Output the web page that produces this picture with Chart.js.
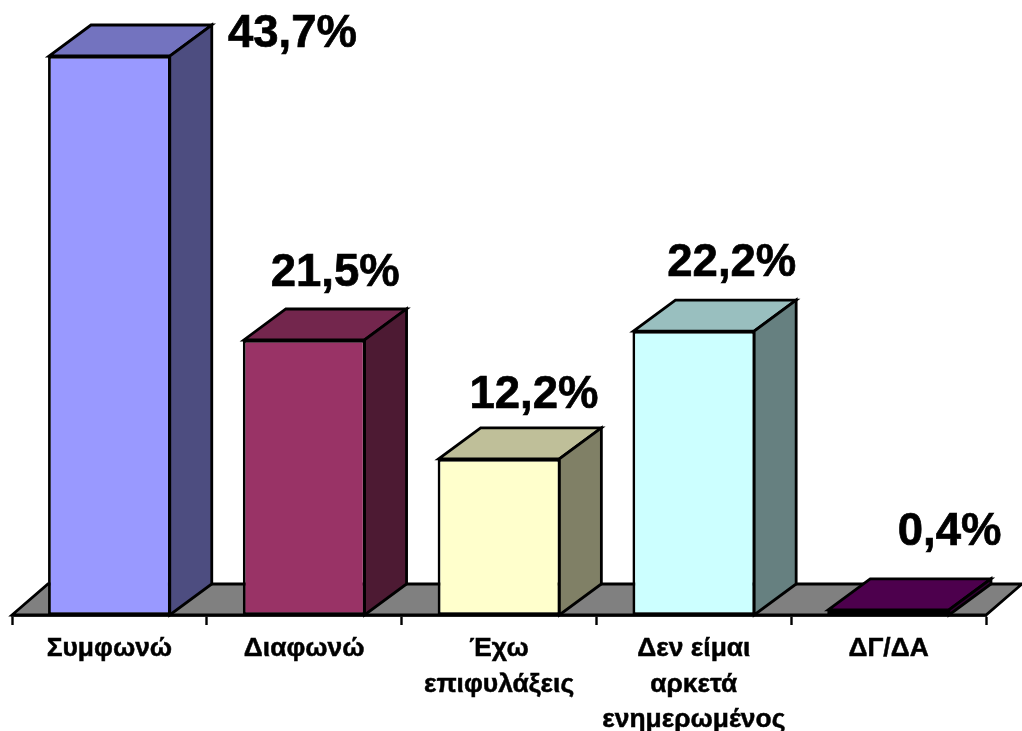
<!DOCTYPE html>
<html>
<head>
<meta charset="utf-8">
<style>html,body{margin:0;padding:0;background:#fff}#w{width:1022px;height:731px;position:relative}</style>
<script src="https://cdn.jsdelivr.net/npm/chart.js@4"></script>
</head>
<body>
<div id="w"><canvas id="c" width="1022" height="731"></canvas></div>
<script>
const categories = [["Συμφωνώ"],["Διαφωνώ"],["Έχω","επιφυλάξεις"],["Δεν είμαι","αρκετά","ενημερωμένος"],["ΔΓ/ΔΑ"]];
const values = [43.7,21.5,12.2,22.2,0.4];
const valueLabels = ["43,7%","21,5%","12,2%","22,2%","0,4%"];
const frontColors = ["#9999FF","#993366","#FFFFCC","#CCFFFF","#660066"];
const topColors = ["#7373BF","#73264D","#BFBF99","#99BFBF","#4D004D"];
const sideColors = ["#4D4D80","#4D1A33","#808066","#668080","#330033"];
const labelShiftX = [183,31,35,38,61];
const labelShiftY = [-22,-67,-63,-68,-77];
const DX = 42, DY = -31, INK = "#000", LINE = 2.8;

function poly(ctx, pts, fill){
  ctx.beginPath();
  pts.forEach((p,i)=> i?ctx.lineTo(p[0],p[1]):ctx.moveTo(p[0],p[1]));
  ctx.closePath();
  ctx.fillStyle = fill; ctx.fill();
  ctx.lineWidth = LINE; ctx.strokeStyle = INK; ctx.lineJoin = "miter"; ctx.stroke();
}
const depth = {
  id:"depth",
  beforeDatasetsDraw(chart){
    const {ctx, chartArea:a} = chart;
    ctx.save();
    poly(ctx, [[a.left,a.bottom],[a.right,a.bottom],[a.right+36,a.bottom+DY],[a.left+36,a.bottom+DY]], "#808080");
    chart.getDatasetMeta(0).data.forEach((b,i)=>{
      const l=b.x-b.width/2+1, r=b.x+b.width/2-1, t=b.y, y0=b.base;
      poly(ctx, [[l,t],[r,t],[r+DX,t+DY],[l+DX,t+DY]], topColors[i]);
      poly(ctx, [[r,t],[r+DX,t+DY],[r+DX,y0+DY],[r,y0]], sideColors[i]);
    });
    ctx.restore();
  },
  afterDatasetsDraw(chart){
    const {ctx} = chart;
    ctx.save();
    ctx.font = "bold 45.5px 'Liberation Sans'";
    ctx.fillStyle = "#000"; ctx.strokeStyle = "#000"; ctx.lineWidth = 0.7;
    ctx.textAlign="center"; ctx.textBaseline="middle";
    chart.getDatasetMeta(0).data.forEach((b,i)=>{
      ctx.fillText(valueLabels[i], b.x+labelShiftX[i], b.y+labelShiftY[i]);
      ctx.strokeText(valueLabels[i], b.x+labelShiftX[i], b.y+labelShiftY[i]);
    });
    ctx.restore();
  }
};
new Chart(document.getElementById("c"),{
  type:"bar",
  data:{labels:categories,datasets:[{data:values,backgroundColor:frontColors,borderColor:INK,borderWidth:LINE,borderSkipped:false,barPercentage:0.63,categoryPercentage:1}]},
  plugins:[depth],
  options:{
    responsive:false,animation:false,
    layout:{padding:{left:12,right:36,top:1,bottom:0}},
    plugins:{legend:{display:false},tooltip:{enabled:false},title:{display:false}},
    scales:{
      y:{display:false,min:0,max:48,grid:{display:false}},
      x:{
        afterFit(s){s.height=116;},
        border:{display:true,color:INK,width:LINE},
        grid:{display:true,drawOnChartArea:false,drawTicks:true,tickLength:10,tickColor:INK,tickWidth:2.4,offset:true},
        ticks:{autoSkip:false,maxRotation:0,minRotation:0,color:"#000",padding:6,textStrokeColor:"#000",textStrokeWidth:0.5,font:{family:"'Liberation Sans'",weight:"bold",size:26.4,lineHeight:1.35}}
      }
    }
  }
});
</script>
</body>
</html>
